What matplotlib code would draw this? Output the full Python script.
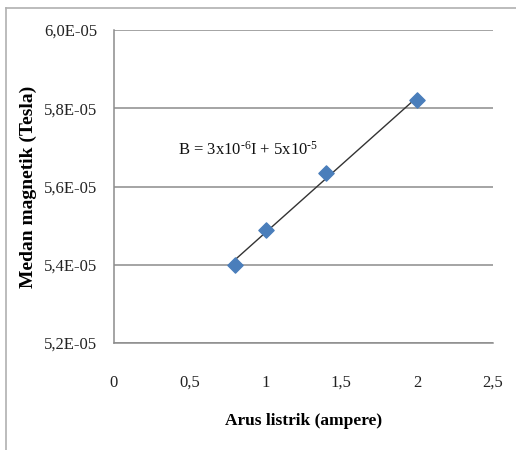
import matplotlib
matplotlib.use("Agg")
import matplotlib.pyplot as plt
import numpy as np
from matplotlib.ticker import FuncFormatter

plt.rcParams['font.family'] = ['Liberation Serif', 'DejaVu Serif']
plt.rcParams['mathtext.fontset'] = 'custom'
plt.rcParams['mathtext.rm'] = 'Liberation Serif'
plt.rcParams['mathtext.it'] = 'Liberation Serif:italic'

current = [0.8, 1.0, 1.4, 2.0]
field = [5.40e-5, 5.49e-5, 5.635e-5, 5.82e-5]
x_ticks = [0, 0.5, 1, 1.5, 2, 2.5]
y_ticks = [5.2e-5, 5.4e-5, 5.6e-5, 5.8e-5, 6.0e-5]
equation = r'B = 3x10$^{\text{-6}}$I + 5x10$^{\text{-5}}$'

fig = plt.figure(figsize=(5.16, 4.5), dpi=100)
# outer chart border
fig.add_artist(plt.Line2D([6/516, 6/516], [0, 1 - 8/450], color='#b0b0b0', lw=1.2))
fig.add_artist(plt.Line2D([6/516, 1], [1 - 8/450, 1 - 8/450], color='#b0b0b0', lw=1.2))

ax = fig.add_axes([114/516, 107/450, 379/516, 313/450])
ax.set_xlim(0, 2.5)
ax.set_ylim(5.2e-5, 6.0e-5)
ax.set_xticks(x_ticks)
ax.set_yticks(y_ticks)
ax.xaxis.set_major_formatter(FuncFormatter(lambda v, p: ('%g' % v).replace('.', ',')))
ax.yaxis.set_major_formatter(FuncFormatter(lambda v, p: ('%.1fE-05' % (v * 1e5)).replace('.', ',')))
ax.tick_params(axis='both', length=0, labelsize=12, colors='#222222')
ax.tick_params(axis='x', pad=23)
ax.tick_params(axis='y', pad=12)
ax.grid(axis='y', color='#8c8c8c', lw=1.1)
ax.set_axisbelow(True)
for s in ['top', 'right']:
    ax.spines[s].set_visible(False)
ax.spines['left'].set_color('#8c8c8c')
ax.spines['bottom'].set_color('#8c8c8c')
ax.spines['left'].set_linewidth(1.1)
ax.spines['bottom'].set_linewidth(1.1)

# trendline
coef = np.polyfit(current, field, 1)
xs = np.array([min(current), max(current)])
ax.plot(xs, np.polyval(coef, xs), color='#333333', lw=1.0, zorder=3)
ax.scatter(current, field, marker='D', s=60, color='#4a7ebb', edgecolors='#4a7ebb', zorder=4)

ax.text(0.42, 5.694e-5, equation, fontsize=12, va='center', ha='left', color='#111111')

ax.set_xlabel('Arus listrik (ampere)', fontsize=12.5, fontweight='bold', labelpad=16)
ax.set_ylabel('Medan magnetik (Tesla)', fontsize=14, fontweight='bold', labelpad=5)

fig.savefig('out.png', dpi=100)
